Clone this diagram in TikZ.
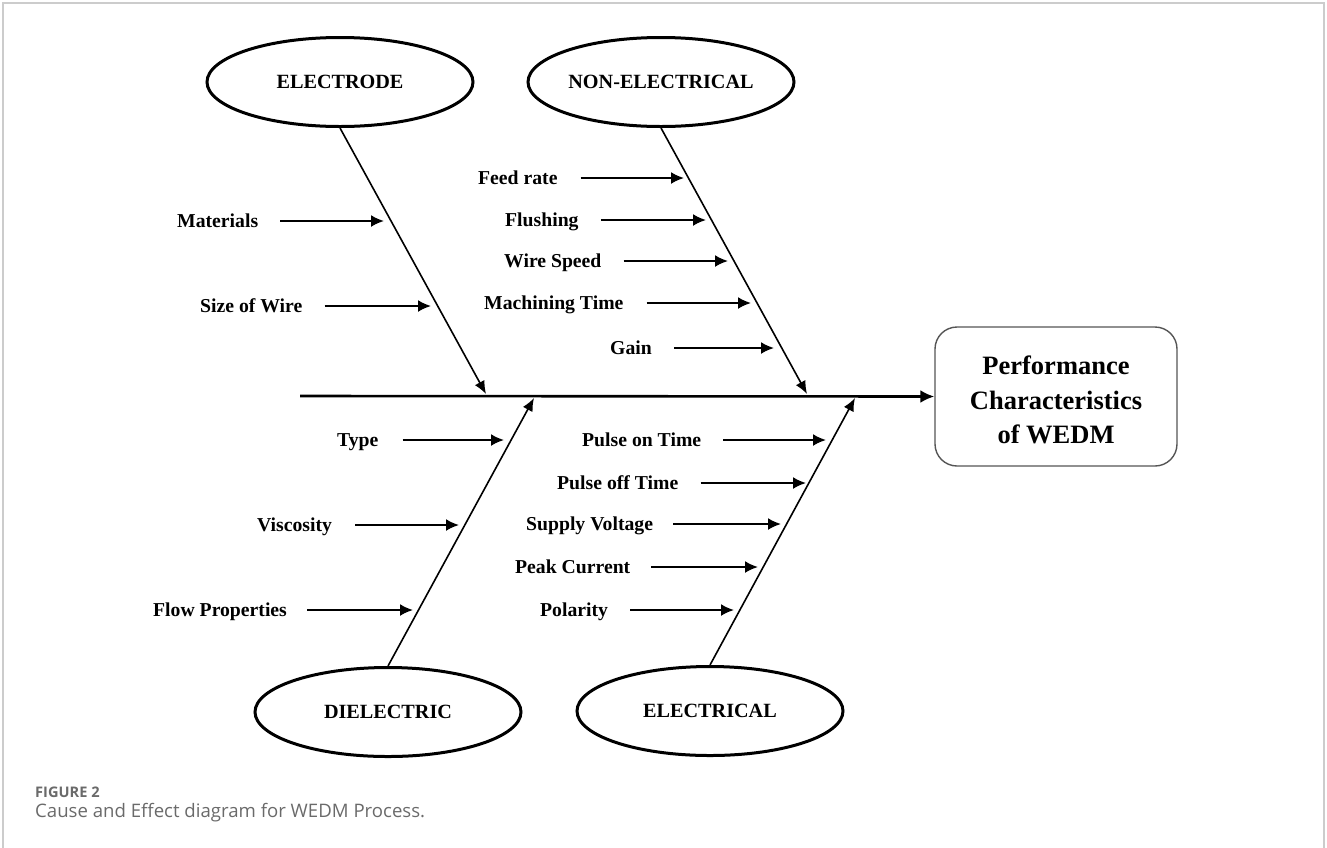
\documentclass[tikz,border=0pt]{standalone}
\usepackage{fontspec}
\setmainfont{Liberation Serif}
\newfontfamily\capfont{Open Sans}
\usetikzlibrary{shapes.geometric,arrows.meta}
\definecolor{framegray}{HTML}{CCCCCC}
\definecolor{capgray}{HTML}{6A6A6A}
\definecolor{boxgray}{HTML}{555555}
\tikzset{
  cat/.style={ellipse,draw,line width=3pt,minimum width=266pt,minimum height=89pt,inner sep=0pt,text height=13.5pt,text depth=0pt,font=\fontsize{20.2}{22}\selectfont\bfseries},
  lbl/.style={anchor=west,inner sep=0pt,text height=13pt,text depth=0pt,font=\fontsize{19.7}{22}\selectfont\bfseries},
  bone/.style={line width=1.6pt,-{Latex[length=13pt,width=11pt]}},
  sub/.style={line width=2pt,-{Latex[length=13pt,width=12pt]}},
  spine/.style={line width=2.6pt,-{Latex[length=14pt,width=13pt]}},
}
\begin{document}
\begin{tikzpicture}[x=1pt,y=-1pt]
\useasboundingbox (0,0) rectangle (1327,847);
% frame
\draw[framegray,line width=1.5pt] (3,850) -- (3,3) -- (1324,3) -- (1324,850);

% effect box
\node[draw=boxgray,line width=1.4pt,rounded corners=22pt,minimum width=242pt,minimum height=139pt,inner sep=0pt] (eff) at (1056,396.5) {};
\node[inner sep=0pt,align=center,font=\fontsize{26.5}{34.5}\selectfont\bfseries] (effT) at (1056,400) {Performance\\Characteristics\\of WEDM};

% spine
\coordinate (tail) at (300,396);
\draw[spine] (tail) -- (eff.west);

% categories
\node[cat] (elde) at (340,82) {ELECTRODE};
\node[cat] (nonel) at (661,82) {NON-ELECTRICAL};
\node[cat] (diel) at (388,712) {DIELECTRIC};
\node[cat] (elec) at (710,711) {ELECTRICAL};

\coordinate (eldeT) at (486,394);
\coordinate (nonelT) at (807,394);
\coordinate (dielT) at (534,398);
\coordinate (elecT) at (855,398);
\draw[bone] (elde.south) -- (eldeT);
\draw[bone] (nonel.south) -- (nonelT);
\draw[bone] (diel.north) -- (dielT);
\draw[bone] (elec.north) -- (elecT);

% electrode causes
\node[lbl] (mat) at (177,221) {Materials};
\coordinate (matT) at (384,221);
\draw[sub] ([xshift=22pt]mat.east) -- (matT);
\node[lbl] (size) at (200,306) {Size of Wire};
\coordinate (sizeT) at (431,306);
\draw[sub] ([xshift=22pt]size.east) -- (sizeT);

% non-electrical causes
\node[lbl] (feed) at (478,178) {Feed rate};
\coordinate (feedT) at (684,178);
\draw[sub] ([xshift=23pt]feed.east) -- (feedT);
\node[lbl] (flush) at (505,220) {Flushing};
\coordinate (flushT) at (706,220);
\draw[sub] ([xshift=22pt]flush.east) -- (flushT);
\node[lbl] (wire) at (504,261) {Wire Speed};
\coordinate (wireT) at (728,261);
\draw[sub] ([xshift=22pt]wire.east) -- (wireT);
\node[lbl] (mach) at (484,303) {Machining Time};
\coordinate (machT) at (751,303);
\draw[sub] ([xshift=23pt]mach.east) -- (machT);
\node[lbl] (gain) at (610,348) {Gain};
\coordinate (gainT) at (774,348);
\draw[sub] ([xshift=22pt]gain.east) -- (gainT);

% dielectric causes
\node[lbl] (type) at (337,440) {Type};
\coordinate (typeT) at (504,440);
\draw[sub] ([xshift=24pt]type.east) -- (typeT);
\node[lbl] (visc) at (257,525) {Viscosity};
\coordinate (viscT) at (459,525);
\draw[sub] ([xshift=23pt]visc.east) -- (viscT);
\node[lbl] (flow) at (153,610) {Flow Properties};
\coordinate (flowT) at (413,610);
\draw[sub] ([xshift=20pt]flow.east) -- (flowT);

% electrical causes
\node[lbl] (pon) at (582,440) {Pulse on Time};
\coordinate (ponT) at (826,440);
\draw[sub] ([xshift=22pt]pon.east) -- (ponT);
\node[lbl] (poff) at (557,483) {Pulse off Time};
\coordinate (poffT) at (806,483);
\draw[sub] ([xshift=22pt]poff.east) -- (poffT);
\node[lbl] (sup) at (526,524) {Supply Voltage};
\coordinate (supT) at (781,524);
\draw[sub] ([xshift=20pt]sup.east) -- (supT);
\node[lbl] (peak) at (515,567) {Peak Current};
\coordinate (peakT) at (758,567);
\draw[sub] ([xshift=21pt]peak.east) -- (peakT);
\node[lbl] (pol) at (540,610) {Polarity};
\coordinate (polT) at (734,610);
\draw[sub] ([xshift=22pt]pol.east) -- (polT);

% caption
\node[anchor=base west,inner sep=0pt,text=capgray,font=\capfont\fontsize{14.6}{16}\selectfont\bfseries] (fig) at (35,797) {FIGURE 2};
\node[anchor=base west,inner sep=0pt,text=capgray,font=\capfont\fontsize{18.6}{20}\selectfont] (cap) at (35,817) {Cause and Effect diagram for WEDM Process.};
\end{tikzpicture}
\end{document}
